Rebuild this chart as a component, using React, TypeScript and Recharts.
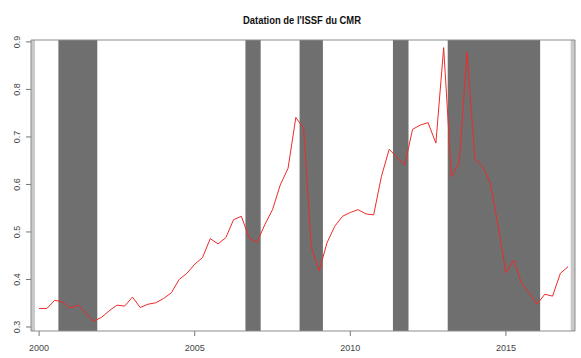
import { LineChart, Line, XAxis, YAxis, ReferenceArea } from 'recharts';

// quarterly ISSF readings, 2000Q1 .. 2017Q1
const startYear = 2000;
const issf = [
  0.339, 0.339, 0.356, 0.353,
  0.340, 0.346, 0.330, 0.312,
  0.320, 0.334, 0.346, 0.344,
  0.363, 0.341, 0.348, 0.351,
  0.360, 0.372, 0.400, 0.413,
  0.432, 0.446, 0.486, 0.475,
  0.488, 0.526, 0.533, 0.487,
  0.478, 0.515, 0.547, 0.599,
  0.634, 0.741, 0.718, 0.467,
  0.418, 0.477, 0.512, 0.533,
  0.541, 0.547, 0.538, 0.536,
  0.617, 0.674, 0.657, 0.641,
  0.716, 0.725, 0.730, 0.687,
  0.888, 0.617, 0.645, 0.879,
  0.653, 0.638, 0.603, 0.512,
  0.414, 0.441, 0.393, 0.371,
  0.348, 0.369, 0.365, 0.413,
  0.427,
];

// stress regimes (dark) and the thin light strips at both edges
const stressBands: [number, number][] = [
  [2000.62, 2001.87],
  [2006.63, 2007.12],
  [2008.37, 2009.12],
  [2011.37, 2011.87],
  [2013.13, 2016.1],
];
const edgeStrips: [number, number][] = [
  [1999.74, 1999.87],
  [2017.08, 2017.22],
];

const xTicks = [2000, 2005, 2010, 2015];
const yTicks = [0.3, 0.4, 0.5, 0.6, 0.7, 0.8, 0.9];

const X_DOMAIN: [number, number] = [1999.74, 2017.22];
const Y_DOMAIN: [number, number] = [0.2916, 0.904];

const data = issf.map((v, i) => ({ t: startYear + i / 4, v }));

function YTick({ y, payload }: any) {
  return (
    <text
      transform={`translate(17, ${y}) rotate(-90)`}
      textAnchor="middle"
      dominantBaseline="central"
      fontSize={9}
      fontFamily="Liberation Sans, Arial, sans-serif"
      fill="#444"
    >
      {Number(payload.value).toFixed(1)}
    </text>
  );
}

function XTick({ x, payload }: any) {
  return (
    <text
      x={x}
      y={351}
      textAnchor="middle"
      fontSize={9}
      fontFamily="Liberation Sans, Arial, sans-serif"
      fill="#444"
    >
      {payload.value}
    </text>
  );
}

export default function App() {
  return (
    <div style={{ position: 'relative', width: 581, height: 358, background: '#fff' }}>
      <style>{`body{margin:0}`}</style>
      <LineChart width={581} height={358} data={data} margin={{ top: 40, right: 6, bottom: 0, left: 0 }}>
        <XAxis
          dataKey="t"
          type="number"
          domain={X_DOMAIN}
          allowDataOverflow
          ticks={xTicks}
          tick={<XTick />}
          axisLine={false}
          tickLine={{ stroke: '#777' }}
          tickSize={5}
          height={27}
        />
        <YAxis
          type="number"
          domain={Y_DOMAIN}
          allowDataOverflow
          ticks={yTicks}
          tick={<YTick />}
          axisLine={false}
          tickLine={{ stroke: '#777' }}
          tickSize={5}
          width={31}
        />
        {edgeStrips.map(([a, b]) => (
          <ReferenceArea key={a} x1={a} x2={b} fill="#c9c9c9" fillOpacity={1} stroke="none" />
        ))}
        {stressBands.map(([a, b]) => (
          <ReferenceArea key={a} x1={a} x2={b} fill="#6f6f6f" fillOpacity={1} stroke="none" />
        ))}
        <Line
          dataKey="v"
          stroke="#ee2a2a"
          strokeWidth={1}
          dot={false}
          activeDot={false}
          isAnimationActive={false}
        />
        <ReferenceArea
          x1={X_DOMAIN[0]}
          x2={X_DOMAIN[1]}
          y1={Y_DOMAIN[0]}
          y2={Y_DOMAIN[1]}
          fill="none"
          stroke="#8c8c8c"
        />
      </LineChart>
      <svg width={581} height={40} style={{ position: 'absolute', left: 0, top: 0, pointerEvents: 'none' }}>
        <text
          x={302}
          y={24}
          textAnchor="middle"
          fontSize={11}
          fontWeight="bold"
          fontFamily="Liberation Sans, Arial, sans-serif"
          textLength={118}
          lengthAdjust="spacingAndGlyphs"
          fill="#111"
        >
          Datation de l'ISSF du CMR
        </text>
      </svg>
    </div>
  );
}
